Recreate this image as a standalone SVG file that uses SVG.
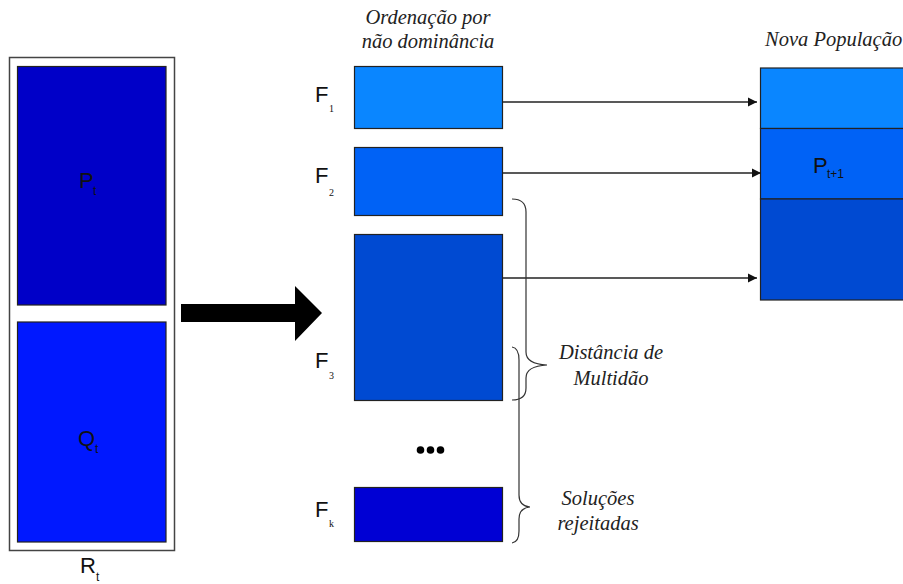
<svg xmlns="http://www.w3.org/2000/svg" width="903" height="584" viewBox="0 0 903 584">
<style>
.box{stroke:#222;stroke-width:1.2}
.lbl{font-family:"Liberation Sans",Arial,sans-serif;font-size:22px;fill:#111}
.sub{font-family:"Liberation Sans",Arial,sans-serif;font-size:12px;fill:#111}
.subs{font-family:"Liberation Serif","Times New Roman",serif;font-size:10px;fill:#111}
.it{font-family:"Liberation Serif","Times New Roman",serif;font-style:italic;font-size:20.5px;fill:#222}
.conn{stroke:#222;stroke-width:1.3;fill:none}
.brace{stroke:#333;stroke-width:1.2;fill:none}
</style>
<defs>
<marker id="ah" markerWidth="10" markerHeight="10" refX="9" refY="5" orient="auto" markerUnits="userSpaceOnUse">
<path d="M0,0.5 L9,5 L0,9.5 Z" fill="#111"/>
</marker>
</defs>
<rect width="903" height="584" fill="#fff"/>
<g id="Rt">
<rect x="9.5" y="57.5" width="165" height="493" fill="#fff" stroke="#444" stroke-width="1.5"/>
<text class="lbl" x="80" y="573">R</text><text class="sub" x="96" y="581">t</text>
</g>
<g id="Pt">
<rect class="box" x="17.5" y="66.5" width="148.5" height="238.5" fill="#0000C8"/>
<text class="lbl" x="79" y="188">P</text><text class="sub" x="93" y="195">t</text>
</g>
<g id="Qt">
<rect class="box" x="17.5" y="322" width="148.5" height="220" fill="#0018FF"/>
<text class="lbl" x="78" y="446">Q</text><text class="sub" x="95" y="453">t</text>
</g>
<g id="bigArrow">
<path d="M181,304 L295,304 L295,286 L322,313 L295,341 L295,322 L181,322 Z" fill="#000"/>
</g>
<g id="header">
<text class="it" x="428" y="24" text-anchor="middle">Ordenação por</text>
<text class="it" x="428" y="48" text-anchor="middle">não dominância</text>
</g>
<g id="F1">
<rect class="box" x="354.5" y="66.5" width="148" height="62" fill="#0A86FF"/>
<text class="lbl" x="315" y="102">F</text><text class="subs" x="329" y="112">1</text>
</g>
<g id="F2">
<rect class="box" x="354.5" y="147.5" width="148" height="68" fill="#0062F6"/>
<text class="lbl" x="315" y="183">F</text><text class="subs" x="329" y="196">2</text>
</g>
<g id="F3">
<rect class="box" x="354.5" y="234.5" width="148" height="166" fill="#004AD2"/>
<text class="lbl" x="315" y="368">F</text><text class="subs" x="329" y="379">3</text>
</g>
<g id="dots">
<circle cx="420.5" cy="450" r="3.8" fill="#000"/>
<circle cx="430.5" cy="450" r="3.8" fill="#000"/>
<circle cx="440.5" cy="450" r="3.8" fill="#000"/>
</g>
<g id="Fk">
<rect class="box" x="354.5" y="487.5" width="148" height="54" fill="#0000D4"/>
<text class="lbl" x="315" y="517">F</text><text class="subs" x="329" y="527">k</text>
</g>
<g id="NovaPop">
<text class="it" x="765" y="46">Nova População</text>
<rect class="box" x="760.5" y="68" width="150" height="60.5" fill="#0A86FF"/>
<rect class="box" x="760.5" y="128.5" width="150" height="70.5" fill="#0062F6"/>
<rect class="box" x="760.5" y="199" width="150" height="101" fill="#004AD2"/>
<text class="lbl" x="813" y="173">P</text><text class="sub" x="827" y="178">t+1</text>
</g>
<g id="connectors">
<line class="conn" x1="502.5" y1="102" x2="757" y2="102" marker-end="url(#ah)"/>
<line class="conn" x1="502.5" y1="173" x2="761" y2="173" marker-end="url(#ah)"/>
<line class="conn" x1="502.5" y1="278" x2="757" y2="278" marker-end="url(#ah)"/>
</g>
<g id="braces">
<path class="brace" d="M512,199 Q526,199 526,212 L526,352 Q526,364 547,365 Q526,366 526,378 L526,388 Q526,400 512,400"/>
<path class="brace" d="M512,347 Q519,348 519,360 L519,495 Q519,506 530,507 Q519,508 519,519 L519,531 Q519,542 512,543"/>
</g>
<g id="annotations">
<text class="it" x="611" y="359" text-anchor="middle">Distância de</text>
<text class="it" x="611" y="385" text-anchor="middle">Multidão</text>
<text class="it" x="598" y="505" text-anchor="middle">Soluções</text>
<text class="it" x="598" y="530" text-anchor="middle">rejeitadas</text>
</g>
</svg>
